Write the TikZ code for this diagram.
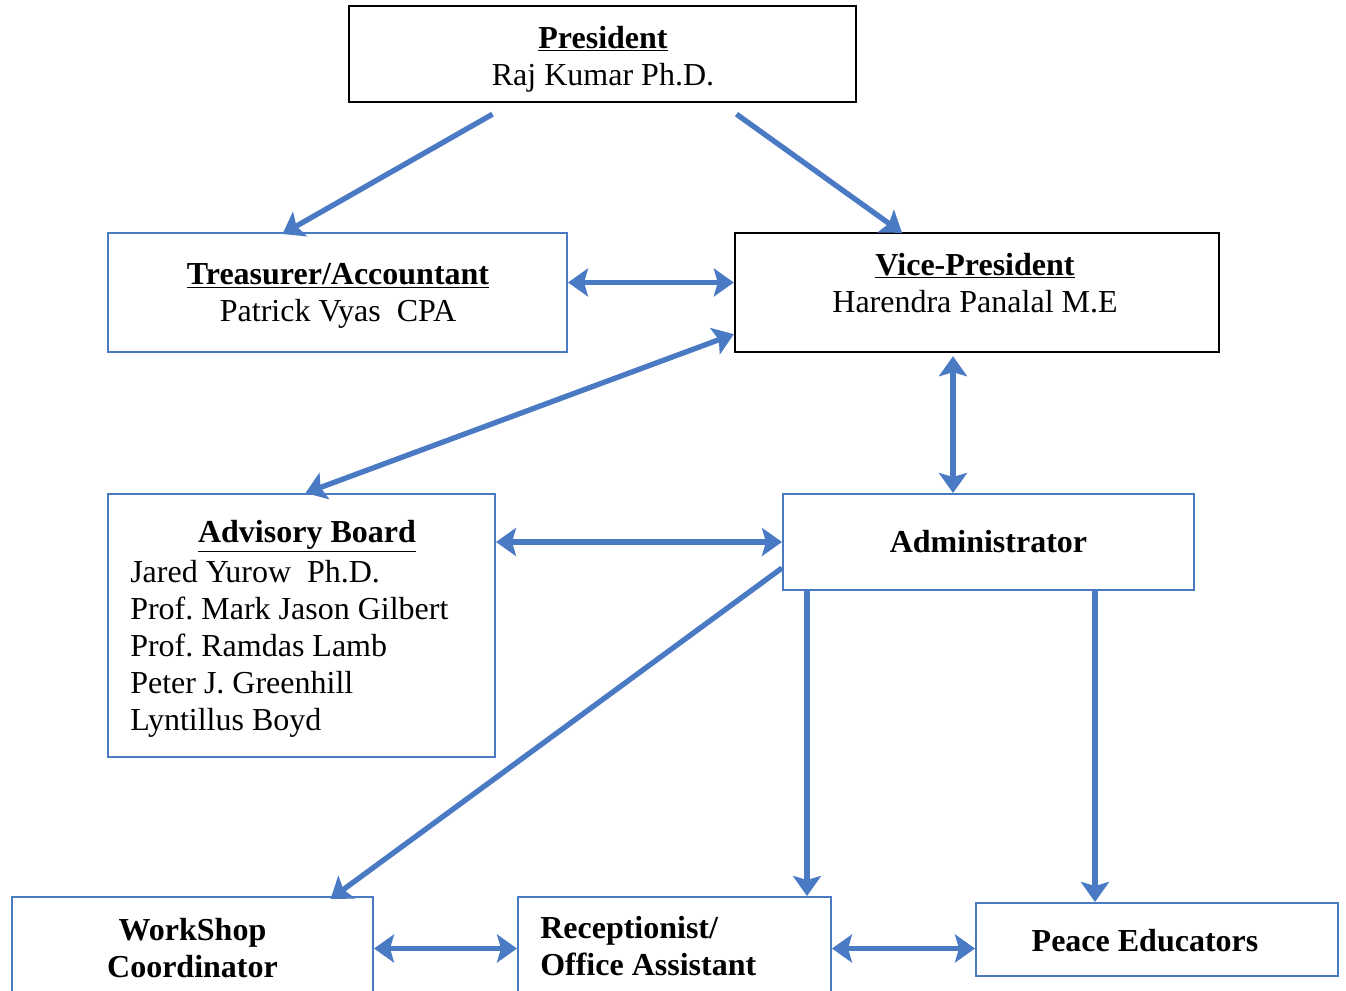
\documentclass[tikz,border=0pt]{standalone}
\usepackage{fontspec}
\setmainfont{Liberation Serif}
\usetikzlibrary{positioning,arrows.meta}
\frenchspacing

\definecolor{orgblue}{RGB}{74,122,196}
\newcommand{\orgfont}{\fontsize{24}{27.75}\selectfont}
\newcommand{\head}[1]{\underline{\textbf{#1}}}

\tikzset{
  box/.style={draw=orgblue, line width=1.5pt, inner sep=0pt, align=center, font=\orgfont},
  headbox/.style={box, draw=black, line width=1.8pt},
  txt/.style={inner sep=0pt, font=\orgfont},
  link/.style={draw=orgblue, line width=4pt, -{Stealth[length=15pt,width=21pt,inset=3pt]}},
  both/.style={link, {Stealth[length=15pt,width=21pt,inset=3pt]}-{Stealth[length=15pt,width=21pt,inset=3pt]}},
}

\begin{document}
\begin{tikzpicture}[x=0.75pt,y=-0.75pt]
    \useasboundingbox (0,0) rectangle (1346,991);
    \clip (0,0) rectangle (1346,991);

    % Boxes
    \node[headbox, minimum width=380.25pt, minimum height=72pt] (pres) at (602.5,54) {};
    \node[box, minimum width=344.25pt, minimum height=89.25pt] (treas) at (337.5,292.5) {};
    \node[headbox, minimum width=363pt, minimum height=89.25pt] (vp) at (977,292.5) {};
    \node[box, minimum width=290.25pt, minimum height=197.25pt] (adv) at (301.5,625.5) {};
    \node[box, minimum width=308.25pt, minimum height=72pt] (admin) at (988.5,542) {\textbf{Administrator}};
    \node[box, minimum width=270.75pt, minimum height=77.25pt] (ws) at (192.5,948.5) {\textbf{WorkShop}\\\textbf{Coordinator}};
    \node[box, minimum width=234.75pt, minimum height=77.25pt] (recep) at (674.5,948.5) {};
    \node[box, minimum width=271.5pt, minimum height=54.75pt] (peace) at (1157,939.5) {};

    % Texts
    \node[txt, align=center] (prestext) at (603,59) {\head{President}\\Raj Kumar Ph.D.};
    \node[txt, align=center] (treastext) at (338,296) {\head{Treasurer/Accountant}\\Patrick Vyas\ \ CPA};
    \node[txt, align=center] (vptext) at (975,283) {\head{Vice-President}\\Harendra Panalal M.E};
    \node[txt] (advtitle) at (307,536) {\head{Advisory Board}};
    \node[txt, align=left, anchor=north west] (advnames) at (130,560) {Jared Yurow\ \ Ph.D.\\Prof. Mark Jason Gilbert\\Prof. Ramdas Lamb\\Peter J. Greenhill\\Lyntillus Boyd};
    \node[txt, align=left, anchor=west] (receptext) at (540,946) {\textbf{Receptionist/}\\\textbf{Office Assistant}};
    \node[txt] (peacetext) at (1145,941) {\textbf{Peace Educators}};

    % Connectors
    \draw[link] ([shift={(-110,11)}]pres.south) -- ([shift={(-55,2)}]treas.north);
    \draw[link] ([shift={(134,11)}]pres.south) -- ([shift={(-75,1)}]vp.north);
    \draw[both] ([shift={(0,-10)}]treas.east) -- ([shift={(0,-10)}]vp.west);
    \draw[both] ([shift={(0,-19)}]vp.south west) -- ([shift={(4,0)}]adv.north);
    \draw[both] ([shift={(-24,3)}]vp.south) -- ([shift={(-35.5,0)}]admin.north);
    \draw[both] (adv.east |- admin.west) -- (admin.west);
    \draw[link] ([shift={(0,26)}]admin.west) -- ([shift={(138,3)}]ws.north);

    \coordinate (tapa) at ([shift={(25,0)}]admin.south west);
    \coordinate (tapb) at ([shift={(313,0)}]admin.south west);
    \draw[link] (tapa) -- (tapa |- recep.north);
    \draw[link] (tapb) -- (tapb |- peace.north);

    \draw[both] (ws.east) -- (recep.west);
    \draw[both] (recep.east) -- (recep.east -| peace.west);

  \end{tikzpicture}
\end{document}
